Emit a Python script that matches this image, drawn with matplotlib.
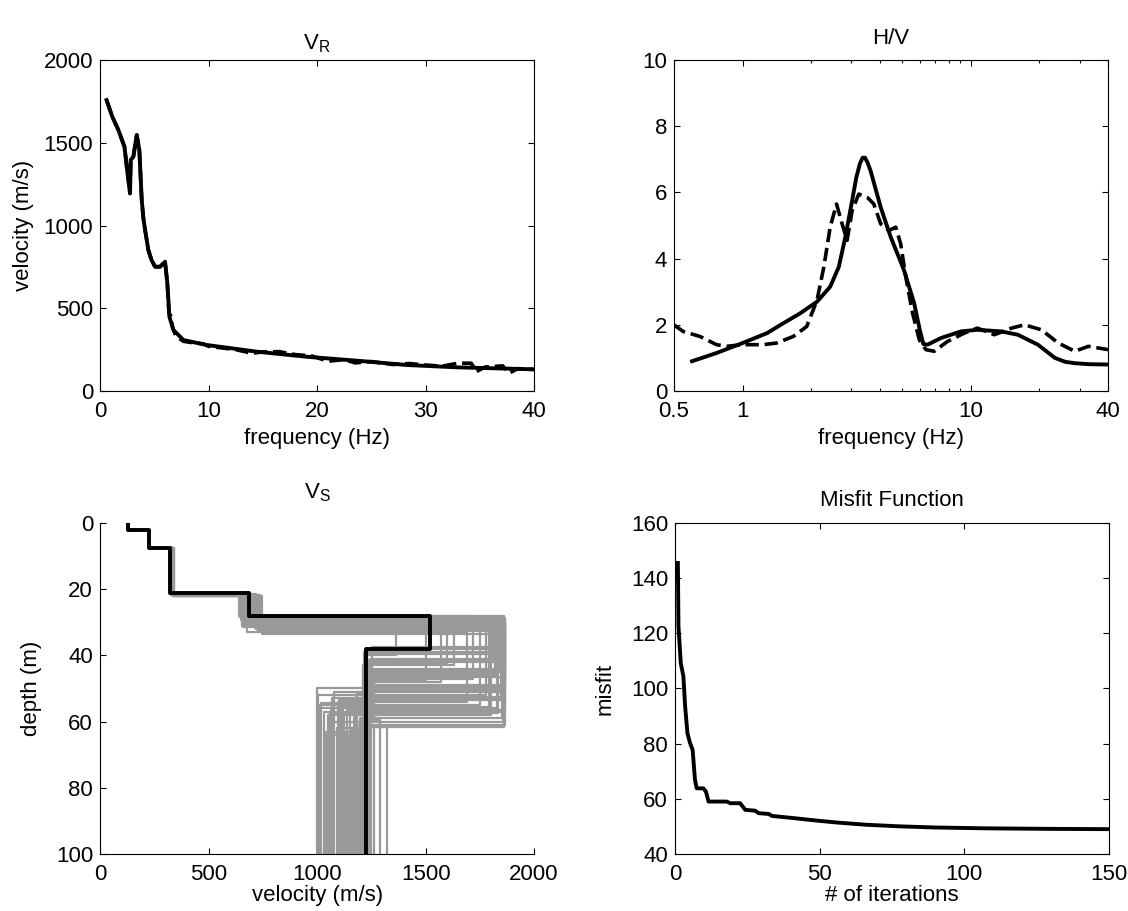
import numpy as np
import matplotlib
matplotlib.use('Agg')
import matplotlib.pyplot as plt
from matplotlib.ticker import FixedLocator, NullFormatter

plt.rcParams['font.family'] = ['Liberation Sans', 'DejaVu Sans']
plt.rcParams['mathtext.default'] = 'regular'

# Rayleigh dispersion: model (solid) and observed (dashed)
vr_f_mod = [0.6, 1.13, 1.69, 2.25, 2.46, 2.76, 2.83, 3.07, 3.38, 3.62, 3.84, 4.0, 4.15,
            4.45, 4.75, 5.07, 5.53, 5.99, 6.2, 6.39, 6.76, 7.68, 9.83, 14.4, 19.05, 23.7,
            28.3, 32.9, 40.0]
vr_v_mod = [1758, 1657, 1577, 1476, 1355, 1194, 1396, 1416, 1547, 1456, 1154, 1040, 973,
            852, 790, 751, 751, 781, 651, 449, 369, 308, 278, 238, 207, 183,
            157, 143, 131]
vr_f_obs = [0.6, 1.13, 1.69, 2.25, 2.46, 2.76, 2.83, 3.07, 3.38, 3.62, 3.84, 4.0, 4.15,
            4.45, 4.75, 5.07, 5.53, 5.99, 6.2, 6.35, 6.5, 6.7, 7.0, 7.7, 8.5, 9.5, 10.0,
            11.0, 12.5, 14.0, 15.0, 16.5, 18.0, 19.5, 21.0, 22.5, 23.5, 25.0, 27.0, 28.5,
            30.0, 31.5, 33.0, 34.2, 34.7, 35.5, 37.1, 37.7, 38.5, 40.0]
vr_v_obs = [1758, 1657, 1577, 1476, 1355, 1194, 1396, 1416, 1547, 1456, 1154, 1040, 973,
            852, 790, 751, 751, 781, 651, 470, 455, 380, 330, 300, 292, 285, 270,
            262, 250, 228, 236, 238, 220, 212, 180, 190, 170, 178, 160, 166,
            157, 150, 168, 168, 118, 145, 152, 108, 135, 130]

# H/V curves
hv_f_mod = [0.60, 0.77, 1.0, 1.28, 1.51, 1.79, 2.12, 2.42, 2.64, 2.82, 3.02, 3.15, 3.27,
            3.36, 3.44, 3.53, 3.64, 4.03, 4.46, 5.10, 5.65, 6.0, 6.2, 6.47, 7.40, 9.06,
            10.7, 13.6, 16.1, 19.7, 23.4, 26.0, 28.6, 33.0, 40.0]
hv_a_mod = [0.90, 1.15, 1.45, 1.75, 2.05, 2.35, 2.70, 3.15, 3.75, 4.65, 5.75, 6.45, 6.88,
            7.05, 7.05, 6.90, 6.65, 5.55, 4.65, 3.65, 2.65, 1.80, 1.42, 1.40, 1.60, 1.80,
            1.85, 1.80, 1.70, 1.40, 1.00, 0.88, 0.84, 0.81, 0.80]
hv_f_obs = [0.5, 0.548, 0.649, 0.768, 0.85, 1.0, 1.23, 1.41, 1.67, 1.91, 2.12, 2.27, 2.42,
            2.58, 2.73, 2.87, 3.02, 3.23, 3.52, 3.76, 4.03, 4.38, 4.69, 4.93, 5.19, 5.56,
            5.95, 6.36, 6.92, 7.92, 9.38, 10.7, 12.7, 15.1, 17.2, 20.4, 24.2, 28.6, 32.8, 40.0]
hv_a_obs = [2.0, 1.80, 1.65, 1.40, 1.35, 1.40, 1.40, 1.45, 1.65, 1.95, 2.75, 3.75, 4.95,
            5.65, 5.05, 4.55, 5.45, 5.95, 5.85, 5.65, 5.05, 4.85, 4.95, 4.45, 3.45, 2.35,
            1.55, 1.25, 1.20, 1.50, 1.75, 1.90, 1.70, 1.90, 2.00, 1.85, 1.45, 1.20, 1.35, 1.25]

# Vs profiles: best model and accepted models (grey)
best_v = [130, 227, 322, 686, 1520, 1225]
best_d = [0, 2, 7.6, 21.2, 28, 38.1, 100]
top_v = [130, 227]
top_d = [0, 2, 7.6]
gray_v3 = [322, 325, 330, 335, 328, 322, 326, 331, 324, 338, 322, 329, 333, 327, 325,
           340, 323, 330, 336, 326, 322, 328, 334, 325, 331, 324, 339, 327, 322, 330,
           326, 333, 321, 337, 329, 324, 332, 328, 323, 335]
gray_d3 = [21.2, 21.5, 21.8, 22.0, 21.4, 21.1, 21.6, 21.9, 21.3, 22.2, 21.2, 21.7, 21.5,
           21.9, 21.4, 22.0, 21.3, 21.6, 21.8, 21.2, 21.5, 21.7, 22.1, 21.4, 21.6, 21.3,
           21.9, 21.5, 21.2, 21.8, 21.4, 21.7, 21.1, 22.0, 21.6, 21.3, 21.9, 21.5, 21.2, 21.8]
gray_v4 = [686, 660, 700, 735, 645, 690, 720, 672, 655, 748, 640, 705, 680, 712, 668,
           740, 650, 695, 728, 662, 684, 710, 742, 648, 700, 676, 730, 658, 692, 716,
           666, 702, 688, 724, 652, 678, 738, 694, 670, 708]
gray_d4 = [28.0, 29.5, 30.5, 31.5, 28.5, 29.0, 32.0, 30.0, 31.0, 33.5, 28.2, 29.8, 30.8,
           31.8, 28.8, 32.5, 29.2, 30.2, 31.2, 28.4, 29.6, 30.6, 33.0, 28.6, 29.4, 30.4,
           32.2, 31.4, 28.9, 30.9, 29.1, 30.1, 28.3, 31.6, 29.9, 32.8, 28.7, 30.7, 31.1, 29.3]
gray_v5 = [1860, 1850, 1865, 1820, 1858, 1780, 1862, 1750, 1840, 1866, 1720, 1855, 1630,
           1860, 1570, 1848, 1865, 1365, 1830, 1862, 1800, 1856, 1690, 1864, 1845, 1500,
           1860, 1868, 1810, 1852, 1866, 1790, 1859, 1835, 1867, 1600, 1854, 1863, 1825, 1861]
gray_d5 = [38, 41, 44, 46, 49, 52, 39, 55, 42, 57, 47, 60, 43, 51, 48, 53, 45, 40, 56, 50,
           58, 37.5, 54, 61, 44.5, 47.5, 50.5, 53.5, 41.5, 59, 46.5, 55.5, 39.5, 57.5, 49.5,
           42.5, 52.5, 61.5, 45.5, 56.5]
gray_v5b = [1230, 1245, 1210, 1260, 1225, 1240, 1215, 1255, 1235, 1220, 1250, 1228, 1212,
            1248, 1238, 1222, 1258, 1232, 1218, 1242, 1226, 1252, 1236, 1214, 1246, 1229,
            1256, 1221, 1241, 1233, 1217, 1249, 1227, 1243, 1211, 1239, 1253, 1224, 1237, 1247]
gray_d6 = [55, 58, 52, 60, 56, 62, 54, 59, 57, 61, 53, 63, 50, 58.5, 55.5, 61.5, 57.5,
           52.5, 62.5, 54.5, 63.5, 51, 59.5, 64, 56.5, 60.5, 53.5, 58, 55, 62, 57, 60, 51.5,
           63, 54, 59, 56, 64, 52, 61]
gray_v6 = [1120, 1050, 1180, 1230, 1010, 1090, 1150, 1200, 1030, 1260, 1070, 1130, 1000,
           1210, 1110, 1320, 1060, 1240, 1160, 1020, 1190, 1080, 1290, 1040, 1140, 1220,
           1100, 1170, 1015, 1250, 1125, 1055, 1185, 1035, 1095, 1205, 1065, 1145, 1005, 1175]

# Misfit vs iterations
it = [1, 1.2, 2.0, 2.9, 3.5, 4.3, 5.2, 6.1, 6.9, 7.5, 9.8, 10.7, 11.6, 17.9, 19.1, 22.5,
      24.3, 27.7, 28.9, 32.4, 33.5, 41, 49, 56, 66, 78, 90, 107, 130, 150]
misfit = [145.5, 122.5, 109.2, 104.4, 93.5, 83.8, 80.2, 77.7, 66.9, 63.8, 63.8, 62.6, 59.0,
          59.0, 58.4, 58.4, 56.0, 55.7, 54.8, 54.5, 53.8, 53.0, 52.1, 51.4, 50.6, 50.0,
          49.6, 49.3, 49.1, 49.0]

FS = 16


def profile(vel, dep):
    x = np.repeat(vel, 2)
    y = np.repeat(dep, 2)[1:-1]
    return x, y


def style(ax, box=True):
    ax.tick_params(direction='in', length=4, width=0.8, labelsize=FS,
                   top=box, right=box)
    ax.tick_params(axis='x', pad=7.5)
    ax.tick_params(axis='y', pad=5)
    ax.tick_params(which='minor', direction='in', length=2.5, width=0.8,
                   top=box, right=box)
    for s in ax.spines.values():
        s.set_linewidth(0.8)
    if not box:
        ax.spines['top'].set_visible(False)
        ax.spines['right'].set_visible(False)


fig = plt.figure(figsize=(11.28, 9.11), dpi=100)
w, h = 0.3848, 0.3633
ax1 = fig.add_axes([0.0887, 0.5708, w, h])
ax2 = fig.add_axes([0.5975, 0.5708, w, h])
ax3 = fig.add_axes([0.0887, 0.0626, w, h])
ax4 = fig.add_axes([0.5984, 0.0626, w, h])

# V_R
ax1.plot(vr_f_obs, vr_v_obs, 'k--', lw=2.6)
ax1.plot(vr_f_mod, vr_v_mod, 'k-', lw=2.8)
ax1.set_xlim(0, 40)
ax1.set_ylim(0, 2000)
ax1.set_xticks([0, 10, 20, 30, 40])
ax1.set_yticks([0, 500, 1000, 1500, 2000])
ax1.set_xlabel('frequency (Hz)', fontsize=FS)
ax1.set_ylabel('velocity (m/s)', fontsize=FS)
ax1.xaxis.set_label_coords(0.5, -0.112)
ax1.yaxis.set_label_coords(-0.152, 0.5)
ax1.set_title('$V_R$', fontsize=FS, pad=8)
style(ax1)

# H/V
ax2.plot(hv_f_obs, hv_a_obs, 'k--', lw=2.6)
ax2.plot(hv_f_mod, hv_a_mod, 'k-', lw=2.8)
ax2.set_xscale('log')
ax2.set_xlim(0.5, 40)
ax2.set_ylim(0, 10)
ax2.xaxis.set_major_locator(FixedLocator([0.5, 1, 10, 40]))
ax2.xaxis.set_minor_locator(FixedLocator([2, 3, 4, 5, 6, 7, 8, 9, 20, 30]))
ax2.xaxis.set_minor_formatter(NullFormatter())
ax2.set_xticklabels(['0.5', '1', '10', '40'])
ax2.set_yticks([0, 2, 4, 6, 8, 10])
ax2.set_xlabel('frequency (Hz)', fontsize=FS)
ax2.xaxis.set_label_coords(0.5, -0.112)
ax2.set_title('H/V', fontsize=FS, pad=11.5)
style(ax2)

# V_S
for i in range(len(gray_v3)):
    vel = top_v + [gray_v3[i], gray_v4[i], gray_v5[i], gray_v5b[i], gray_v6[i]]
    dep = top_d + [gray_d3[i], gray_d4[i], gray_d5[i], gray_d6[i], 100]
    x, y = profile(vel, dep)
    ax3.plot(x, y, color='#999999', lw=1.6)
x, y = profile(best_v, best_d)
ax3.plot(x, y, 'k-', lw=2.8)
ax3.set_xlim(0, 2000)
ax3.set_ylim(100, 0)
ax3.set_xticks([0, 500, 1000, 1500, 2000])
ax3.set_yticks([0, 20, 40, 60, 80, 100])
ax3.set_xlabel('velocity (m/s)', fontsize=FS)
ax3.set_ylabel('depth (m)', fontsize=FS)
ax3.xaxis.set_label_coords(0.5, -0.095)
ax3.yaxis.set_label_coords(-0.134, 0.5)
ax3.set_title('$V_S$', fontsize=FS, pad=18)
style(ax3, box=False)

# Misfit
ax4.plot(it, misfit, 'k-', lw=2.8)
ax4.set_xlim(0, 150)
ax4.set_ylim(40, 160)
ax4.set_xticks([0, 50, 100, 150])
ax4.set_yticks([40, 60, 80, 100, 120, 140, 160])
ax4.set_xlabel('# of iterations', fontsize=FS)
ax4.set_ylabel('misfit', fontsize=FS)
ax4.xaxis.set_label_coords(0.5, -0.095)
ax4.yaxis.set_label_coords(-0.138, 0.5)
ax4.set_title('Misfit Function', fontsize=FS, pad=12)
style(ax4)

fig.savefig('out.png', dpi=100)
